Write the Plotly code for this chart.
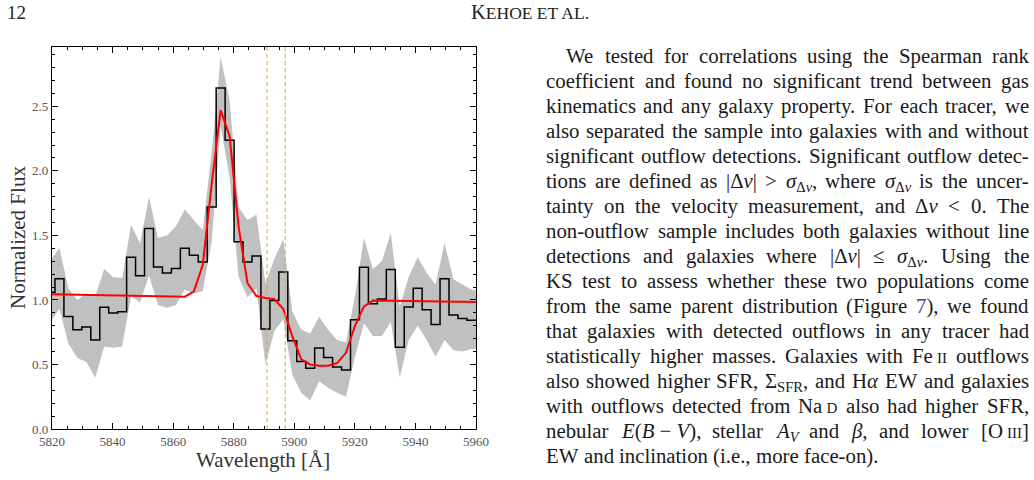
import re
import html
import glob
import struct
import plotly.graph_objects as go

# ---------------- data ----------------
wavelength = [5819.50, 5822.46, 5825.41, 5828.37, 5831.33, 5834.29, 5837.24, 5840.20,
              5843.16, 5846.11, 5849.07, 5852.03, 5854.98, 5857.94, 5860.90, 5863.86,
              5866.81, 5869.77, 5872.73, 5875.68, 5878.64, 5881.60, 5884.55, 5887.51,
              5890.47, 5893.43, 5896.38, 5899.34, 5902.30, 5905.25, 5908.21, 5911.17,
              5914.12, 5917.08, 5920.04, 5923.00, 5925.95, 5928.91, 5931.87, 5934.82,
              5937.78, 5940.74, 5943.69, 5946.65, 5949.61, 5952.57, 5955.52, 5958.48,
              5961.44]
flux = [1.059, 1.165, 0.871, 0.770, 0.791, 0.690, 0.943, 0.899, 0.909, 1.330, 1.188,
        1.553, 1.256, 1.209, 1.243, 1.400, 1.346, 1.295, 1.721, 2.643, 2.238, 1.450,
        1.295, 1.340, 0.775, 0.995, 1.217, 0.684, 0.523, 0.470, 0.627, 0.555, 0.480,
        0.458, 0.846, 1.253, 0.970, 1.008, 1.236, 0.633, 0.946, 1.090, 0.925, 0.809,
        1.165, 0.884, 0.857, 0.842, 0.842]
flux_upper = [1.31, 1.40, 1.09, 1.00, 1.05, 1.03, 1.24, 1.175, 1.17, 1.58, 1.44, 1.80,
              1.48, 1.50, 1.57, 1.70, 1.62, 1.54, 2.15, 2.88, 2.55, 1.72, 1.62, 1.66,
              1.13, 1.32, 1.47, 0.91, 0.77, 0.74, 0.87, 0.77, 0.69, 0.67, 1.03, 1.48,
              1.24, 1.30, 1.52, 0.95, 1.18, 1.33, 1.21, 1.12, 1.44, 1.16, 1.12, 1.08,
              1.07]
flux_lower = [0.83, 0.93, 0.66, 0.55, 0.52, 0.40, 0.64, 0.63, 0.64, 1.03, 0.98, 1.19,
              0.96, 0.94, 0.96, 1.08, 1.05, 1.07, 1.45, 2.35, 1.95, 1.18, 1.02, 1.09,
              0.50, 0.76, 0.85, 0.42, 0.28, 0.22, 0.37, 0.32, 0.28, 0.25, 0.56, 0.82,
              0.72, 0.72, 0.83, 0.40, 0.69, 0.80, 0.69, 0.56, 0.69, 0.61, 0.60, 0.62,
              0.62]
model = [1.045, 1.044, 1.043, 1.042, 1.040, 1.039, 1.038, 1.037, 1.035, 1.034, 1.033,
         1.031, 1.030, 1.028, 1.026, 1.025, 1.065, 1.27, 1.90, 2.47, 2.27, 1.57, 1.13,
         1.03, 1.015, 1.005, 0.93, 0.72, 0.54, 0.50, 0.49, 0.49, 0.51, 0.59, 0.80, 0.95,
         0.995, 0.994, 0.993, 0.992, 0.991, 0.990, 0.989, 0.988, 0.987, 0.986, 0.985,
         0.984, 0.983]
nad_lines = [5891.0, 5897.0]
x_ticks = [5820, 5840, 5860, 5880, 5900, 5920, 5940, 5960]
y_ticks = [0.0, 0.5, 1.0, 1.5, 2.0, 2.5]

header_page = "12"
header_title = "K<span style='font-size:17.5px'>EHOE ET AL.</span>"
paragraph = [
    "We tested for correlations using the Spearman rank",
    "coefficient and found no significant trend between gas",
    "kinematics and any galaxy property. For each tracer, we",
    "also separated the sample into galaxies with and without",
    "significant outflow detections. Significant outflow detec-",
    "tions are defined as |Δ<i>v</i>| &gt; <i>σ</i><sub>Δ<i>v</i></sub>, where <i>σ</i><sub>Δ<i>v</i></sub> is the uncer-",
    "tainty on the velocity measurement, and Δ<i>v</i> &lt; 0. The",
    "non-outflow sample includes both galaxies without line",
    "detections and galaxies where |Δ<i>v</i>| ≤ <i>σ</i><sub>Δ<i>v</i></sub>. Using the",
    "KS test to assess whether these two populations come",
    "from the same parent distribution (Figure <span style='color:#3a3ab0'>7</span>), we found",
    "that galaxies with detected outflows in any tracer had",
    "statistically higher masses. Galaxies with Fe\u2009<span style='font-size:15px'>II</span> outflows",
    "also showed higher SFR, Σ<sub>SFR</sub>, and H<i>α</i> EW and galaxies",
    "with outflows detected from Na\u2009<span style='font-size:15px'>D</span> also had higher SFR,",
    "nebular <i>E</i>(<i>B</i>\u2005−\u2005<i>V</i>), stellar <i>A</i><sub><i>V</i></sub> and <i>β</i>, and lower [O\u2009<span style='font-size:15px'>III</span>]",
    "EW and inclination (i.e., more face-on).",
]

# ---------------- page geometry ----------------
W, H = 1034, 480
ML, MR, MT, MB = 52, 558, 47, 51
PW, PH = W - ML - MR, H - MT - MB
SERIF = "Liberation Serif, Times New Roman, serif"


def px_x(px):
    return (px - ML) / PW


def px_y(py):
    return (H - MB - py) / PH


# ---------------- font metrics for justified text ----------------
def load_adv(pattern):
    paths = glob.glob("/usr/share/fonts/**/" + pattern, recursive=True)
    if not paths:
        return None
    data = open(paths[0], "rb").read()
    ntab = struct.unpack(">H", data[4:6])[0]
    tabs = {}
    for i in range(ntab):
        tag, cs, off, ln = struct.unpack(">4sIII", data[12 + 16 * i:28 + 16 * i])
        tabs[tag.decode("latin1")] = off
    upem = struct.unpack(">H", data[tabs["head"] + 18:tabs["head"] + 20])[0]
    nhm = struct.unpack(">H", data[tabs["hhea"] + 34:tabs["hhea"] + 36])[0]
    hm = tabs["hmtx"]
    advs = [struct.unpack(">H", data[hm + 4 * i:hm + 4 * i + 2])[0] for i in range(nhm)]
    cm = tabs["cmap"]
    nsub = struct.unpack(">H", data[cm + 2:cm + 4])[0]
    so = None
    for i in range(nsub):
        pid, eid, off = struct.unpack(">HHI", data[cm + 4 + 8 * i:cm + 12 + 8 * i])
        fmt = struct.unpack(">H", data[cm + off:cm + off + 2])[0]
        if pid == 3 and eid == 1 and fmt == 4:
            so = cm + off
    if so is None:
        return None
    s2 = struct.unpack(">H", data[so + 6:so + 8])[0]
    n = s2 // 2
    ends = struct.unpack(">%dH" % n, data[so + 14:so + 14 + s2])
    starts = struct.unpack(">%dH" % n, data[so + 16 + s2:so + 16 + 2 * s2])
    deltas = struct.unpack(">%dh" % n, data[so + 16 + 2 * s2:so + 16 + 3 * s2])
    rpos = so + 16 + 3 * s2
    roffs = struct.unpack(">%dH" % n, data[rpos:rpos + s2])

    def glyph(c):
        for i in range(n):
            if ends[i] >= c:
                if starts[i] > c:
                    return 0
                if roffs[i] == 0:
                    return (c + deltas[i]) & 0xFFFF
                a = rpos + 2 * i + roffs[i] + 2 * (c - starts[i])
                g = struct.unpack(">H", data[a:a + 2])[0]
                return (g + deltas[i]) & 0xFFFF if g else 0
        return 0

    cache = {}

    def adv(ch):
        if ch not in cache:
            g = glyph(ord(ch))
            cache[ch] = advs[min(g, nhm - 1)] / upem
        return cache[ch]
    return adv


try:
    ADV_R = load_adv("LiberationSerif-Regular.ttf")
    ADV_I = load_adv("LiberationSerif-Italic.ttf") or ADV_R
except Exception:
    ADV_R = ADV_I = None


def measure(word, size):
    if ADV_R is None:
        plain = html.unescape(re.sub(r"<[^>]+>", "", word))
        return 0.46 * size * len(plain)
    scale = [1.0]
    ital = 0
    w = 0.0
    for t in re.findall(r"<[^>]+>|[^<]+", word):
        if t.startswith("<"):
            tl = t.lower()
            if tl.startswith("<sub"):
                scale.append(scale[-1] * 0.7)
            elif tl.startswith("</sub"):
                scale.pop()
            elif tl.startswith("<i"):
                ital += 1
            elif tl.startswith("</i"):
                ital -= 1
            elif tl.startswith("<span"):
                m = re.search(r"font-size:\s*([\d.]+)px", t)
                scale.append(float(m.group(1)) / size if m else scale[-1])
            elif tl.startswith("</span"):
                scale.pop()
        else:
            f = ADV_I if ital else ADV_R
            w += sum(f(c) for c in html.unescape(t)) * size * scale[-1]
    return w


# ---------------- figure ----------------
fig = go.Figure()

fig.add_trace(go.Scatter(x=wavelength, y=flux_lower, mode="lines",
                         line=dict(width=0, color="#c0c0c0"), hoverinfo="skip",
                         showlegend=False))
fig.add_trace(go.Scatter(x=wavelength, y=flux_upper, mode="lines",
                         line=dict(width=0, color="#c0c0c0"), fill="tonexty",
                         fillcolor="#c0c0c0", hoverinfo="skip", showlegend=False))
fig.add_trace(go.Scatter(x=wavelength, y=flux, mode="lines",
                         line=dict(color="black", width=1.5, shape="hvh"),
                         showlegend=False))
fig.add_trace(go.Scatter(x=wavelength, y=model, mode="lines",
                         line=dict(color="#ff0000", width=2), showlegend=False))

for w0 in nad_lines:
    fig.add_vline(x=w0, line=dict(color="#d9a441", width=1, dash="4px,3px"))

axis_common = dict(
    showline=True, linecolor="black", linewidth=1.3, mirror="allticks",
    ticks="inside", ticklen=6, tickwidth=1.1, tickcolor="black",
    showgrid=False, zeroline=False,
    tickfont=dict(family="Liberation Serif", size=13, color="#555555"),
)
fig.update_xaxes(range=[5820, 5960], tickvals=x_ticks,
                 minor=dict(ticks="inside", dtick=5, ticklen=3, tickwidth=1,
                            tickcolor="black", showgrid=False),
                 **axis_common)
fig.update_yaxes(range=[0, 2.96], tickvals=y_ticks, tickformat=".1f",
                 minor=dict(ticks="inside", dtick=0.1, ticklen=3, tickwidth=1,
                            tickcolor="black", showgrid=False),
                 **axis_common)

ann = []
# axis titles
ann.append(dict(text="Normalized Flux", x=px_x(18), y=px_y(238), textangle=-90,
                font=dict(family=SERIF, size=21, color="#333333")))
ann.append(dict(text="Wavelength [Å]", x=px_x(263), y=px_y(460),
                font=dict(family=SERIF, size=21, color="#333333")))
# running header
ann.append(dict(text=header_page, x=px_x(5), y=px_y(12), xanchor="left",
                font=dict(family=SERIF, size=19, color="#222222")))
ann.append(dict(text=header_title, x=px_x(530), y=px_y(12),
                font=dict(family=SERIF, size=20.5, color="#222222")))

# justified paragraph
FS = 20.8
LEFT, RIGHT, INDENT = 545, 1028, 20
Y0, DY = 57, 25
for i, line in enumerate(paragraph):
    words = re.split(r" (?![^<>]*>)", line)
    x0 = LEFT + (INDENT if i == 0 else 0)
    widths = [measure(wd, FS) for wd in words]
    space = measure(" ", FS)
    if i < len(paragraph) - 1 and len(words) > 1:
        gap = (RIGHT - x0 - sum(widths)) / (len(words) - 1)
        gap = max(gap, 0.6 * space)
    else:
        gap = space
    xc = x0
    yc = Y0 + DY * i
    for wd, wdt in zip(words, widths):
        ann.append(dict(text=wd, x=px_x(xc - 1), y=px_y(yc - 14.6), xanchor="left",
                        yanchor="top",
                        font=dict(family=SERIF, size=FS, color="#1a1a1a")))
        xc += wdt + gap

for a in ann:
    a.setdefault("xref", "paper")
    a.setdefault("yref", "paper")
    a.setdefault("showarrow", False)
    a.setdefault("xanchor", "center")
    a.setdefault("yanchor", "middle")
fig.update_layout(annotations=ann)

fig.update_layout(
    width=W, height=H,
    margin=dict(l=ML, r=MR, t=MT, b=MB, pad=0),
    paper_bgcolor="white", plot_bgcolor="white",
    showlegend=False,
)

fig.write_html("out.html")
